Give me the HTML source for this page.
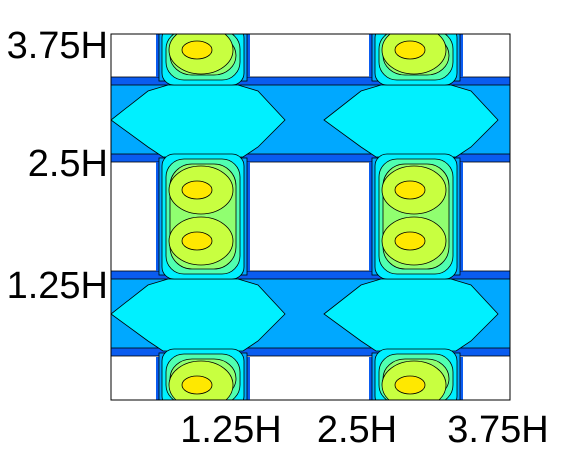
<!DOCTYPE html>
<html><head><meta charset="utf-8"><style>
html,body{margin:0;padding:0;background:#fff;}
svg{display:block;}
text{font-family:"Liberation Sans",sans-serif;font-size:38px;fill:#000;}
</style></head><body>
<svg id="chart" width="564" height="449" viewBox="0 0 564 449" xmlns="http://www.w3.org/2000/svg">
<defs>
<clipPath id="plot"><rect x="111" y="34" width="399" height="366"/></clipPath>
</defs>
<g id="marks" clip-path="url(#plot)" stroke="#000" stroke-width="0.8"></g>
<rect x="111" y="34" width="399" height="366" fill="none" stroke="#000" stroke-width="1"/>
<g text-anchor="end">
<text x="108" y="58">3.75H</text>
<text x="108" y="176">2.5H</text>
<text x="108" y="298">1.25H</text>
</g>
<g text-anchor="middle">
<text x="231" y="442">1.25H</text>
<text x="357" y="442">2.5H</text>
<text x="498" y="442">3.75H</text>
</g>
</svg>
<script>
const colCenters=[203,416];
const bandTops=[77,271];
const bandH=85;
const segs=[[34,77],[162,271],[357,400]];
const peaks=[[197,50],[197,190],[197,241],[197,385]];
const g=document.getElementById('marks');
const NS='http://www.w3.org/2000/svg';
function el(t,a,name){const e=document.createElementNS(NS,t);for(const k in a)e.setAttribute(k,a[k]);


g.appendChild(e);return e;}
bandTops.forEach(function(t){
  el('rect',{x:111,y:t,width:399,height:bandH,fill:'#0a5cf0'},'band-edge');
  el('rect',{x:111,y:t+8,width:399,height:bandH-16,fill:'#00a8ff'},'band-mid');
  colCenters.forEach(function(c){
    const L=c-92,R=c+82,m=t+43;
    el('path',{d:'M'+L+' '+m+' L'+(c-55)+' '+(t+14)+' L'+(c-35)+' '+(t+8)+' L'+(c+35)+' '+(t+8)+' L'+(c+55)+' '+(t+14)+' L'+R+' '+m+' L'+(c+55)+' '+(t+70)+' L'+(c+40)+' '+(t+80)+' L'+(c-40)+' '+(t+80)+' L'+(c-55)+' '+(t+70)+'Z',fill:'#00f0ff'},'band-lens');
  });
});
colCenters.forEach(function(c){
  segs.forEach(function(s){
    const x0=c-47,w=94;
    el('rect',{x:x0,y:s[0],width:w,height:s[1]-s[0],fill:'#0a5cf0',stroke:'none'},'column-edge');
    el('rect',{x:x0+3,y:s[0]-4,width:w-6,height:s[1]-s[0]+8,fill:'#00a8ff'},'column-mid');
    el('rect',{x:x0+6,y:s[0]-8,width:w-12,height:s[1]-s[0]+16,rx:12,fill:'#00f0ff'},'column-cyan');
    el('rect',{x:x0+10,y:s[0]-3,width:w-20,height:s[1]-s[0]+6,rx:18,fill:'#50ffb0'},'column-aqua');
    el('rect',{x:x0+14,y:s[0]+2,width:w-28,height:s[1]-s[0]-4,rx:22,fill:'#90ff70'},'column-green');
  });
});
peaks.forEach(function(p){
  colCenters.forEach(function(c){
    const x=p[0]+(c-203);
    el('ellipse',{cx:x+4,cy:p[1],rx:32,ry:24,fill:'#c8ff40'},'peak-ring');
    el('ellipse',{cx:x,cy:p[1],rx:15,ry:9,fill:'#ffe800'},'peak-core');
  });
});
</script>
</body></html>
